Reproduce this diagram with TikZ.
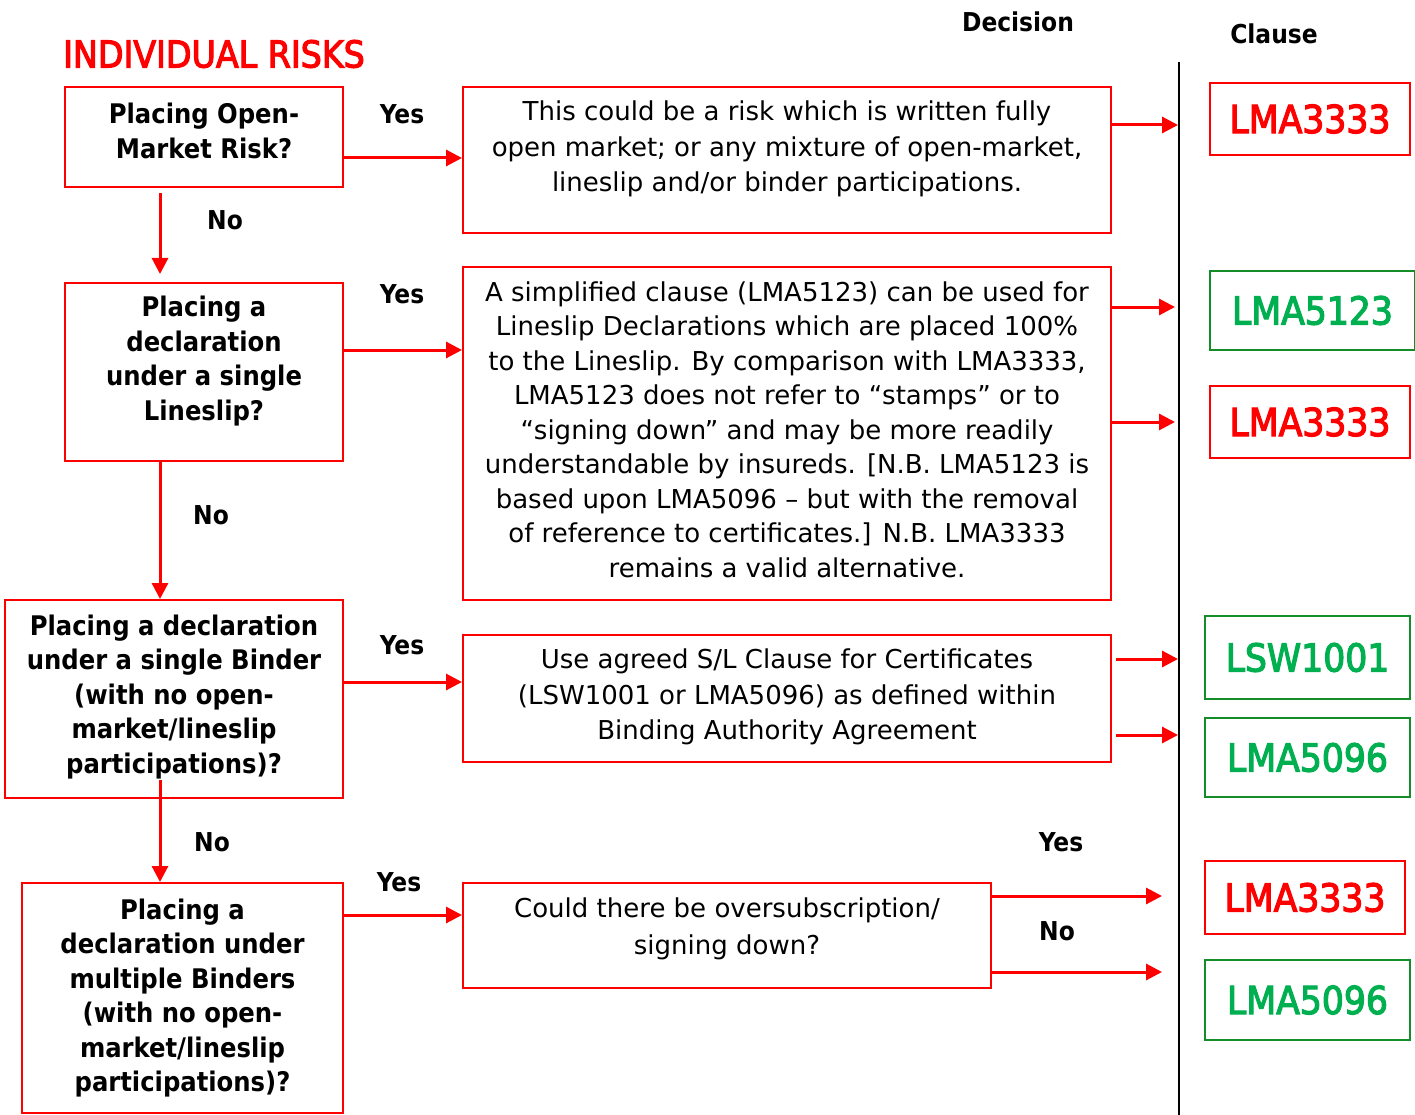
\documentclass[tikz,border=0pt]{standalone}
\usepackage{fontspec}
\setmainfont{DejaVu Sans Condensed}
\newfontfamily\widefont{DejaVu Sans}
\newfontfamily\heavyfont[FakeBold=3]{DejaVu Sans Condensed}
\usetikzlibrary{arrows.meta}
\definecolor{lred}{RGB}{255,0,0}
\definecolor{lgreen}{RGB}{0,176,80}
\definecolor{lgreenb}{RGB}{20,140,40}
\begin{document}
\begin{tikzpicture}[x=1pt,y=-1pt,
  rbox/.style={draw=lred, line width=2pt, inner sep=0pt},
  gbox/.style={draw=lgreenb, line width=2pt, inner sep=0pt},
  rclause/.style={rbox, text=lred, font=\heavyfont\fontsize{38.5}{40}\selectfont},
  gclause/.style={gbox, text=lgreen, font=\heavyfont\fontsize{38.5}{40}\selectfont},
  qtext/.style={align=center, inner sep=0pt, font=\fontsize{27}{34.5}\selectfont\bfseries},
  dtext/.style={align=center, inner sep=0pt, font=\widefont\fontsize{26}{34.5}\selectfont},
  lbl/.style={inner sep=0pt, font=\fontsize{26}{30}\selectfont\bfseries},
  arr/.style={draw=lred, line width=3pt, -{Triangle[length=16pt,width=16pt]}},
]
\useasboundingbox (0,0) rectangle (1415,1115);

% headings
\node[inner sep=0pt, text=lred, font=\heavyfont\fontsize{37}{40}\selectfont, anchor=west] (title) at (63,54) {INDIVIDUAL RISKS};
\node[lbl] (dec) at (1018,22) {Decision};
\node[lbl] (cla) at (1274,34) {Clause};

% vertical line
\coordinate (vtop) at (1179,62);
\coordinate (vbot) at (1179,1115);
\draw[line width=2pt] (vtop) -- (vbot);

% left question boxes
\node[rbox, minimum width=278pt, minimum height=100pt] (b1) at (204,137) {};
\node[qtext] (t1) at (204,131) {Placing Open-\\Market Risk?};
\node[rbox, minimum width=278pt, minimum height=178pt] (b2) at (204,372) {};
\node[qtext] (t2) at (204,361) {Placing a\\declaration\\under a single\\Lineslip?};
\node[rbox, minimum width=338pt, minimum height=198pt] (b3) at (174,699) {};
\node[qtext] (t3) at (174,697) {Placing a declaration\\under a single Binder\\(with no open-\\market/lineslip\\participations)?};
\node[rbox, minimum width=321pt, minimum height=230pt] (b4) at (182.5,998) {};
\node[qtext] (t4) at (182.5,998) {Placing a\\declaration under\\multiple Binders\\(with no open-\\market/lineslip\\participations)?};

% decision boxes
\node[rbox, minimum width=648pt, minimum height=146pt] (m1) at (787,160) {};
\node[dtext, font=\widefont\fontsize{26}{35.5}\selectfont] (d1) at (787,149) {This could be a risk which is written fully\\open market; or any mixture of open-market,\\lineslip and/or binder participations.};
\node[rbox, minimum width=648pt, minimum height=333pt] (m2) at (787,433.5) {};
\node[dtext] (d2) at (787,429.5) {A simplified clause (LMA5123) can be used for\\Lineslip Declarations which are placed 100\%\\to the Lineslip. By comparison with LMA3333,\\LMA5123 does not refer to “stamps” or to\\“signing down” and may be more readily\\understandable by insureds. [N.B. LMA5123 is\\based upon LMA5096 – but with the removal\\of reference to certificates.] N.B. LMA3333\\remains a valid alternative.};
\node[rbox, minimum width=648pt, minimum height=127pt] (m3) at (787,698.5) {};
\node[dtext, font=\widefont\fontsize{26}{35.5}\selectfont] (d3) at (787,697) {Use agreed S/L Clause for Certificates\\(LSW1001 or LMA5096) as defined within\\Binding Authority Agreement};
\node[rbox, minimum width=528pt, minimum height=105pt] (m4) at (727,935.5) {};
\node[dtext, font=\widefont\fontsize{26}{37}\selectfont] (d4) at (727,929) {Could there be oversubscription/\\signing down?};

% clause boxes
\node[rclause, minimum width=200pt, minimum height=72pt] (r1) at (1310,119) {LMA3333};
\node[gclause, minimum width=205pt, minimum height=79pt] (r2) at (1312.5,310.5) {LMA5123};
\node[rclause, minimum width=200pt, minimum height=72pt] (r3) at (1310,422) {LMA3333};
\node[gclause, minimum width=205pt, minimum height=83pt] (r4) at (1307.5,657.5) {LSW1001};
\node[gclause, minimum width=205pt, minimum height=79pt] (r5) at (1307.5,757.5) {LMA5096};
\node[rclause, minimum width=200pt, minimum height=73pt] (r6) at (1305,897.5) {LMA3333};
\node[gclause, minimum width=205pt, minimum height=80pt] (r7) at (1307.5,1000) {LMA5096};

% helper levels
\coordinate (ya) at (0,158);
\coordinate (yb) at (0,350);
\coordinate (yc) at (0,682);
\coordinate (yd) at (0,915);
\coordinate (e1) at (1178,125);
\coordinate (e2) at (1175,307);
\coordinate (e3) at (1175,422);
\coordinate (e4) at (1178,659);
\coordinate (e5) at (1178,735);
\coordinate (e6) at (1162,896);
\coordinate (e7) at (1162,972);
\coordinate (s3) at (160,780);

% yes arrows
\draw[arr] (b1.east |- ya) -- (m1.west |- ya);
\draw[arr] (b2.east |- yb) -- (m2.west |- yb);
\draw[arr] (b3.east |- yc) -- (m3.west |- yc);
\draw[arr] (b4.east |- yd) -- (m4.west |- yd);

% no arrows
\draw[arr] ([yshift=-5pt]b1.south -| s3) -- ([yshift=8pt]b2.north -| s3);
\draw[arr] (b2.south -| s3) -- (b3.north -| s3);
\draw[arr] (s3) -- (b4.north -| s3);

% to clause column
\draw[arr] (m1.east |- e1) -- (e1);
\draw[arr] (m2.east |- e2) -- (e2);
\draw[arr] (m2.east |- e3) -- (e3);
\draw[arr] ([xshift=4pt]m3.east |- e4) -- (e4);
\draw[arr] ([xshift=4pt]m3.east |- e5) -- (e5);
\draw[arr] (m4.east |- e6) -- (e6);
\draw[arr] (m4.east |- e7) -- (e7);

% labels
\node[lbl] (y1) at (402,114) {Yes};
\node[lbl] (y2) at (402,294) {Yes};
\node[lbl] (y3) at (402,645) {Yes};
\node[lbl] (y4) at (399,882) {Yes};
\node[lbl] (n1) at (225,220) {No};
\node[lbl] (n2) at (211,515) {No};
\node[lbl] (n3) at (212,842) {No};
\node[lbl] (y5) at (1061,842) {Yes};
\node[lbl] (n4) at (1057,931) {No};
\end{tikzpicture}
\end{document}
